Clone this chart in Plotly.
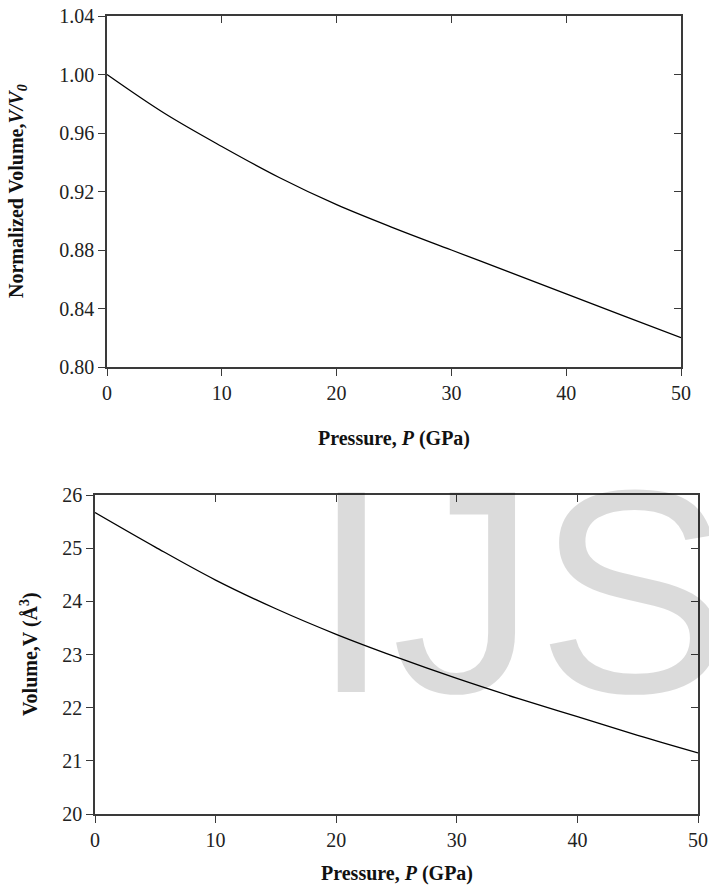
import plotly.graph_objects as go

# ---- data ----
pressure = [0, 5, 10, 15, 20, 25, 30, 35, 40, 45, 50]
norm_volume = [1.000, 0.9735, 0.9508, 0.9296, 0.9110, 0.8950, 0.880, 0.865, 0.850, 0.835, 0.820]
volume = [25.67, 25.02, 24.40, 23.86, 23.38, 22.95, 22.55, 22.18, 21.83, 21.48, 21.15]

x_ticks = [0, 10, 20, 30, 40, 50]
x_inner_ticks = [10, 20, 30, 40]
top_y_ticks = [0.80, 0.84, 0.88, 0.92, 0.96, 1.00, 1.04]
top_y_inner = [0.84, 0.88, 0.92, 0.96, 1.00]
bot_y_ticks = [20, 21, 22, 23, 24, 25, 26]
bot_y_inner = [21, 22, 23, 24, 25]

x_title = "Pressure, <i>P</i> (GPa)"
top_y_title = "Normalized Volume,<i>V/V<sub>0</sub></i>"
bot_y_title = "Volume,V (Å<sup>3</sup>)"
watermark = "IJS"

W, H = 709, 886
SERIF = "Liberation Serif, Times New Roman, serif"
AX = "#3a3a3a"
tickfont = dict(family=SERIF, size=20, color="#222222")


def px(x):
    return x / W


def py(y):
    return 1 - y / H


top_dom_x = [px(107), px(681)]
top_dom_y = [py(367), py(16)]
bot_dom_x = [px(95), px(698)]
bot_dom_y = [py(814), py(495)]

fig = go.Figure()

line = dict(color="black", width=1.3, shape="spline", smoothing=1.0)
fig.add_trace(go.Scatter(x=pressure, y=norm_volume, mode="lines", line=line,
                         xaxis="x", yaxis="y", showlegend=False))
fig.add_trace(go.Scatter(x=pressure, y=volume, mode="lines", line=line,
                         xaxis="x2", yaxis="y2", showlegend=False))
# invisible carriers for the mirrored (inside-tick) axes
fig.add_trace(go.Scatter(x=pressure, y=norm_volume, mode="lines", opacity=0,
                         hoverinfo="skip", xaxis="x3", yaxis="y3", showlegend=False))
fig.add_trace(go.Scatter(x=pressure, y=volume, mode="lines", opacity=0,
                         hoverinfo="skip", xaxis="x4", yaxis="y4", showlegend=False))

common = dict(showgrid=False, zeroline=False, showline=True, linecolor=AX,
              linewidth=1.5, tickcolor=AX, tickwidth=1.3, ticklen=7, automargin=False)

fig.update_layout(
    width=W, height=H,
    margin=dict(l=0, r=0, t=0, b=0, autoexpand=False),
    paper_bgcolor="white", plot_bgcolor="rgba(0,0,0,0)",
    xaxis=dict(domain=top_dom_x, anchor="y", range=[0, 50], tickvals=x_ticks,
               ticks="outside", tickfont=tickfont, **common),
    yaxis=dict(domain=top_dom_y, anchor="x", range=[0.80, 1.04], tickvals=top_y_ticks,
               tickformat=".2f", ticks="outside", tickfont=tickfont, **common),
    xaxis2=dict(domain=bot_dom_x, anchor="y2", range=[0, 50], tickvals=x_ticks,
                ticks="outside", tickfont=tickfont, **common),
    yaxis2=dict(domain=bot_dom_y, anchor="x2", range=[20, 26], tickvals=bot_y_ticks,
                ticks="outside", tickfont=tickfont, **common),
    xaxis3=dict(overlaying="x", anchor="y3", side="top", range=[0, 50],
                tickvals=x_inner_ticks, ticks="inside", showticklabels=False, **common),
    yaxis3=dict(overlaying="y", anchor="x3", side="right", range=[0.80, 1.04],
                tickvals=top_y_inner, ticks="inside", showticklabels=False, **common),
    xaxis4=dict(overlaying="x2", anchor="y4", side="top", range=[0, 50],
                tickvals=x_inner_ticks, ticks="inside", showticklabels=False, **common),
    yaxis4=dict(overlaying="y2", anchor="x4", side="right", range=[20, 26],
                tickvals=bot_y_inner, ticks="inside", showticklabels=False, **common),
)

tfont = dict(family=SERIF, size=20, color="#111111", weight="bold")
fig.add_annotation(text=watermark, xref="paper", yref="paper", x=px(309), y=py(591),
                   xanchor="left", yanchor="middle", showarrow=False,
                   font=dict(family="Liberation Sans, Arial, sans-serif", size=290,
                             color="rgba(0,0,0,0.14)"))
fig.add_annotation(text=x_title, xref="paper", yref="paper", x=px(394), y=py(438),
                   xanchor="center", yanchor="middle", showarrow=False, font=tfont)
fig.add_annotation(text=x_title, xref="paper", yref="paper", x=px(397), y=py(873),
                   xanchor="center", yanchor="middle", showarrow=False, font=tfont)
fig.add_annotation(text=top_y_title, xref="paper", yref="paper", x=px(17), y=py(191),
                   xanchor="center", yanchor="middle", textangle=-90, showarrow=False, font=tfont)
fig.add_annotation(text=bot_y_title, xref="paper", yref="paper", x=px(29), y=py(654),
                   xanchor="center", yanchor="middle", textangle=-90, showarrow=False, font=tfont)

fig.write_html("out.html", config={"displayModeBar": False},
               post_script="document.body.style.margin='0';document.body.style.overflow='hidden';")
